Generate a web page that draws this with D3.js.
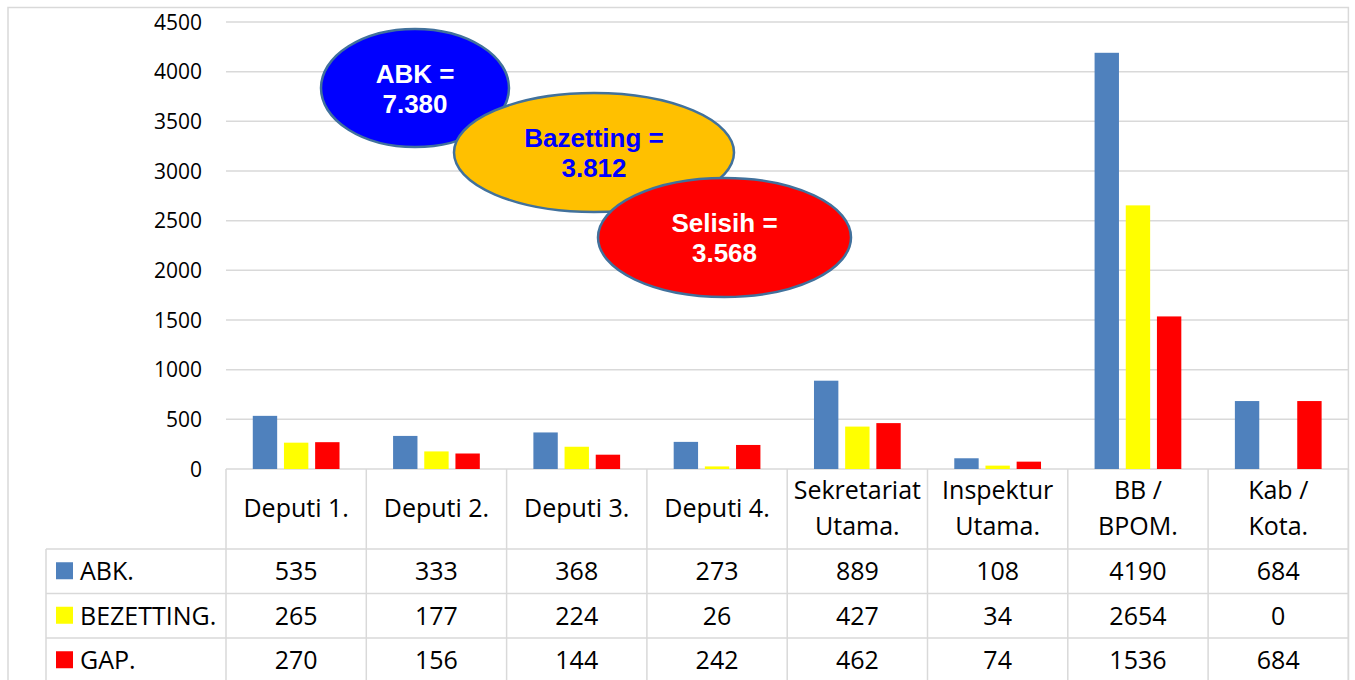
<!DOCTYPE html>
<html>
<head>
<meta charset="utf-8">
<script src="https://cdn.jsdelivr.net/npm/d3@7"></script>
<style>
	html, body { margin: 0; padding: 0; background: #fff; }
	svg { display: block; }
</style>
</head>
<body>
<div id="chart"></div>
<script>
// ---------- data
var categories = ["Deputi 1.", "Deputi 2.", "Deputi 3.", "Deputi 4.", "Sekretariat\nUtama.", "Inspektur\nUtama.", "BB /\nBPOM.", "Kab /\nKota."];
var seriesNames = ["ABK.", "BEZETTING.", "GAP."];
var abkValues = [535, 333, 368, 273, 889, 108, 4190, 684];
var bezettingValues = [265, 177, 224, 26, 427, 34, 2654, 0];
var gapValues = [270, 156, 144, 242, 462, 74, 1536, 684];
var yTicks = [0, 500, 1000, 1500, 2000, 2500, 3000, 3500, 4000, 4500];
var calloutLines = [["ABK =", "7.380"], ["Bazetting =", "3.812"], ["Selisih =", "3.568"]];

var seriesValues = [abkValues, bezettingValues, gapValues];
var seriesColors = ["#4f81bd", "#ffff00", "#ff0000"];

(function () {
	var _width = 1355,
		_height = 680,
		_left = 226,
		_right = 1348.4,
		_top = 22,
		_bottom = 469,
		_headerH = 80,
		_rowH = 44.5,
		_legendLeft = 46,
		_grid = "#d9d9d9",
		_font = "'Open Sans', sans-serif";

	var svg = d3.select("#chart").append("svg")
		.attr("width", _width)
		.attr("height", _height);

	// outer chart border
	svg.append("rect")
		.attr("x", 8).attr("y", 7.5)
		.attr("width", _right - 8).attr("height", _height + 20)
		.attr("fill", "#fff")
		.attr("stroke", _grid).attr("stroke-width", 1.5);

	var x = d3.scaleBand().domain(categories).range([_left, _right]);
	var xSub = d3.scaleBand().domain(seriesNames).range([0, x.bandwidth()])
		.paddingInner(0.218).paddingOuter(0.859);
	var y = d3.scaleLinear().domain([0, 4500]).range([_bottom, _top]);

	//------------- gridlines + y labels
	svg.append("g").selectAll("line")
		.data(yTicks)
		.enter().append("line")
		.attr("x1", _left).attr("x2", _right)
		.attr("y1", d => y(d)).attr("y2", d => y(d))
		.attr("stroke", _grid).attr("stroke-width", 1.5);

	svg.append("g").selectAll("text")
		.data(yTicks)
		.enter().append("text")
		.attr("x", 202)
		.attr("y", d => y(d))
		.attr("dy", "0.36em")
		.attr("text-anchor", "end")
		.style("font-family", _font)
		.style("font-size", "21px")
		.attr("fill", "#000")
		.text(d => d);

	//------------- bars
	var group = svg.append("g").selectAll("g")
		.data(seriesNames)
		.enter().append("g")
		.attr("fill", (d, i) => seriesColors[i]);

	group.selectAll("rect")
		.data((d, i) => seriesValues[i].map((v, j) => ({ cat: categories[j], s: d, v: v })))
		.enter().append("rect")
		.attr("x", d => x(d.cat) + xSub(d.s))
		.attr("width", xSub.bandwidth())
		.attr("y", d => y(d.v))
		.attr("height", d => y(0) - y(d.v));

	//------------- data table
	var table = svg.append("g")
		.attr("stroke", _grid).attr("stroke-width", 1.5);

	var rowTop = _bottom + _headerH;
	var rowYs = d3.range(seriesNames.length + 1).map(i => rowTop + i * _rowH);

	table.selectAll("line.h")
		.data(rowYs)
		.enter().append("line")
		.attr("x1", _legendLeft).attr("x2", _right)
		.attr("y1", d => d).attr("y2", d => d);

	var colXs = categories.map(c => x(c)).concat([_right]);
	table.selectAll("line.v")
		.data(colXs)
		.enter().append("line")
		.attr("x1", d => d).attr("x2", d => d)
		.attr("y1", _bottom).attr("y2", _height + 10);

	table.append("line")
		.attr("x1", _legendLeft).attr("x2", _legendLeft)
		.attr("y1", rowTop).attr("y2", _height + 10);

	// header labels
	var header = svg.append("g").selectAll("text")
		.data(categories)
		.enter().append("text")
		.attr("text-anchor", "middle")
		.style("font-family", _font)
		.style("font-size", "25px")
		.attr("fill", "#000");

	header.each(function (d) {
		var lines = d.split("\n"),
			cy = _bottom + _headerH / 2 + 8,
			lh = 35.5,
			start = cy - (lines.length - 1) * lh / 2;
		d3.select(this).selectAll("tspan")
			.data(lines)
			.enter().append("tspan")
			.attr("x", x(d) + x.bandwidth() / 2)
			.attr("y", (_, i) => start + i * lh)
			.text(t => t);
	});

	// rows
	var rows = svg.append("g").selectAll("g")
		.data(seriesNames)
		.enter().append("g")
		.attr("transform", (_, i) => "translate(0," + (rowTop + i * _rowH) + ")");

	rows.append("rect")
		.attr("x", 56).attr("y", _rowH / 2 - 9)
		.attr("width", 17).attr("height", 17)
		.attr("fill", (_, i) => seriesColors[i]);

	rows.append("text")
		.attr("x", 80).attr("y", _rowH / 2 + 9)
		.style("font-family", _font)
		.style("font-size", "25px")
		.attr("fill", "#000")
		.text(d => d);

	rows.selectAll("text.v")
		.data((d, i) => seriesValues[i])
		.enter().append("text")
		.attr("x", (_, j) => x(categories[j]) + x.bandwidth() / 2)
		.attr("y", _rowH / 2 + 9)
		.attr("text-anchor", "middle")
		.style("font-family", _font)
		.style("font-size", "25px")
		.attr("fill", "#000")
		.text(v => v);

	//------------- callout ellipses
	var callouts = [
		{ cx: 415, cy: 88, rx: 94, ry: 59, fill: "#0000ff", color: "#ffffff" },
		{ cx: 594, cy: 152.5, rx: 140, ry: 59.5, fill: "#ffc000", color: "#0000ff" },
		{ cx: 724.5, cy: 237.5, rx: 126.5, ry: 59.5, fill: "#ff0000", color: "#ffffff" }
	];

	var bubble = svg.append("g").selectAll("g")
		.data(callouts)
		.enter().append("g");

	bubble.append("ellipse")
		.attr("cx", d => d.cx).attr("cy", d => d.cy)
		.attr("rx", d => d.rx).attr("ry", d => d.ry)
		.attr("fill", d => d.fill)
		.attr("stroke", "#41719c").attr("stroke-width", 2.5);

	bubble.append("text")
		.attr("text-anchor", "middle")
		.style("font-family", "'Liberation Sans', Arial, sans-serif")
		.style("font-size", "26px")
		.style("font-weight", "bold")
		.attr("fill", d => d.color)
		.each(function (d, i) {
			d3.select(this).selectAll("tspan")
				.data(calloutLines[i])
				.enter().append("tspan")
				.attr("x", d.cx)
				.attr("y", (_, k) => d.cy - 5.5 + k * 30)
				.text(t => t);
		});
})();
</script>
</body>
</html>
